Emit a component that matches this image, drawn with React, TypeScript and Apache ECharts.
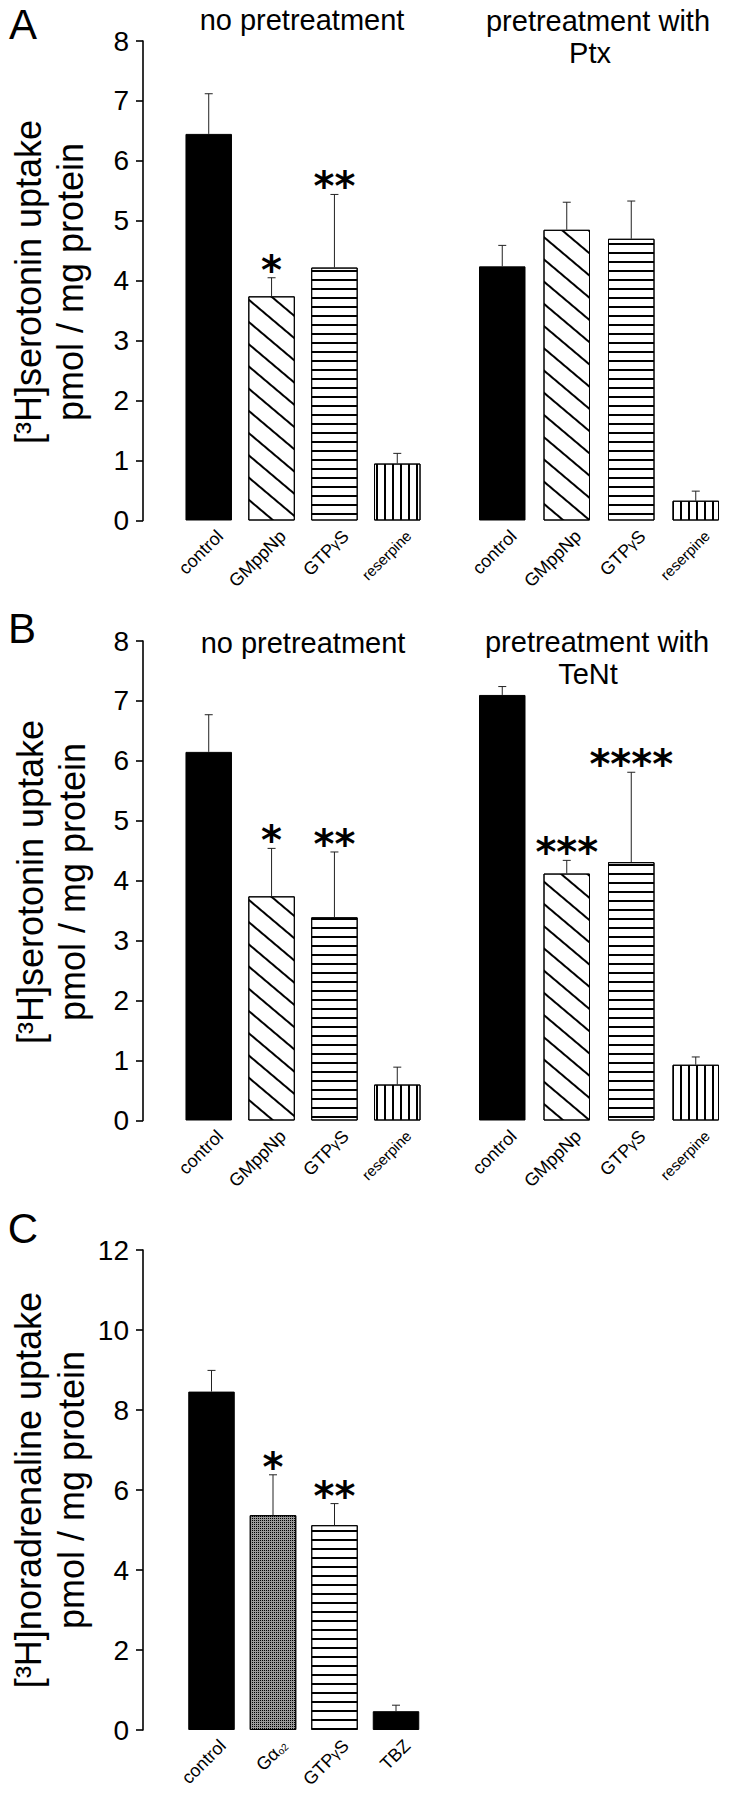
import React, { useEffect, useRef } from 'react';
import * as echarts from 'echarts';

// ---------- data ----------
const serotoninCategories = ['control', 'GMppNp', 'GTPγS', 'reserpine'];
const noradrenalineCategories = ['control', 'Gαo2', 'GTPγS', 'TBZ'];

const aNoPretreatMean = [6.45, 3.74, 4.22, 0.95];
const aNoPretreatSem = [0.67, 0.31, 1.22, 0.17];
const aNoPretreatSig = ['', '*', '**', ''];

const aPtxMean = [4.24, 4.85, 4.7, 0.33];
const aPtxSem = [0.35, 0.46, 0.63, 0.16];
const aPtxSig = ['', '', '', ''];

const bNoPretreatMean = [6.15, 3.74, 3.39, 0.6];
const bNoPretreatSem = [0.62, 0.8, 1.09, 0.29];
const bNoPretreatSig = ['', '*', '**', ''];

const bTeNtMean = [7.1, 4.12, 4.31, 0.93];
const bTeNtSem = [0.14, 0.22, 1.5, 0.13];
const bTeNtSig = ['', '***', '****', ''];

const cMean = [8.46, 5.37, 5.12, 0.47];
const cSem = [0.53, 1.01, 0.54, 0.15];
const cSig = ['', '*', '**', ''];

const serotoninFills = ['solid', 'diag', 'horiz', 'vert'];
const noradrenalineFills = ['solid', 'stipple', 'horiz', 'solid'];

const serotoninAxisMax = 8;
const serotoninAxisInterval = 1;
const noradrenalineAxisMax = 12;
const noradrenalineAxisInterval = 2;

// ---------- styles ----------
const FONT = '"Liberation Sans", Arial, Helvetica, sans-serif';
const AXIS_X = 143;

const decals: Record<string, any> = {
  diag: { symbol: 'rect', symbolSize: 1, dashArrayX: [1, 0], dashArrayY: [1.2, 14.6], rotation: 0.7, color: '#000' },
  horiz: { symbol: 'rect', symbolSize: 1, dashArrayX: [1, 0], dashArrayY: [1.2, 6.6], color: '#000' },
  vert: { symbol: 'rect', symbolSize: 1, dashArrayX: [1.2, 5.6], dashArrayY: [1, 0], color: '#000' },
  stipple: { symbol: 'rect', symbolSize: 1, dashArrayX: [1, 1], dashArrayY: [1, 1], color: '#000' },
};

function fillStyle(kind: string) {
  if (kind === 'solid') return { color: '#000' };
  if (kind === 'stipple') return { color: '#999', decal: decals.stipple };
  return { color: '#fff', decal: decals[kind] };
}

function labelFormatter(v: string) {
  if (v === 'reserpine') return '{r|reserpine}';
  if (v === 'Gαo2') return '{g|Gα}{s|o2}';
  if (v === 'GTPγS') return '{n|GTP}{y|γ}{n|S}';
  return '{n|' + v + '}';
}

const labelRich = {
  n: { fontSize: 18, fontFamily: FONT, color: '#000' },
  y: { fontSize: 14, fontFamily: FONT, color: '#000' },
  r: { fontSize: 15, fontFamily: FONT, color: '#000' },
  g: { fontSize: 18, fontFamily: FONT, color: '#000' },
  s: { fontSize: 10, fontFamily: FONT, color: '#000', padding: [7, 0, 0, 0] },
};

type Panel = {
  left: number;
  width: number;
  top: number;
  height: number;
  cats: string[];
  mean: number[];
  sem: number[];
  sig: string[];
  fills: string[];
  showY: boolean;
  max: number;
  interval: number;
};

export default function App() {
  const ref = useRef<HTMLDivElement>(null);

  useEffect(() => {
    if (!ref.current) return;
    const chart = echarts.init(ref.current, undefined, { renderer: 'svg' });

    const panels: Panel[] = [
      { left: 177.3, width: 251.4, top: 41, height: 479.5, cats: serotoninCategories, mean: aNoPretreatMean, sem: aNoPretreatSem, sig: aNoPretreatSig, fills: serotoninFills, showY: true, max: serotoninAxisMax, interval: serotoninAxisInterval },
      { left: 470, width: 258, top: 41, height: 479.5, cats: serotoninCategories, mean: aPtxMean, sem: aPtxSem, sig: aPtxSig, fills: serotoninFills, showY: false, max: serotoninAxisMax, interval: serotoninAxisInterval },
      { left: 177.3, width: 251.4, top: 641, height: 479.5, cats: serotoninCategories, mean: bNoPretreatMean, sem: bNoPretreatSem, sig: bNoPretreatSig, fills: serotoninFills, showY: true, max: serotoninAxisMax, interval: serotoninAxisInterval },
      { left: 470, width: 258, top: 641, height: 479.5, cats: serotoninCategories, mean: bTeNtMean, sem: bTeNtSem, sig: bTeNtSig, fills: serotoninFills, showY: false, max: serotoninAxisMax, interval: serotoninAxisInterval },
      { left: 180.75, width: 246, top: 1250, height: 480, cats: noradrenalineCategories, mean: cMean, sem: cSem, sig: cSig, fills: noradrenalineFills, showY: true, max: noradrenalineAxisMax, interval: noradrenalineAxisInterval },
    ];

    const grid: any[] = [];
    const xAxis: any[] = [];
    const yAxis: any[] = [];
    const series: any[] = [];

    panels.forEach((p, gi) => {
      grid.push({ left: p.left, width: p.width, top: p.top, height: p.height, containLabel: false });
      xAxis.push({
        gridIndex: gi,
        type: 'category',
        data: p.cats,
        axisLine: { show: false },
        axisTick: { show: false },
        splitLine: { show: false },
        axisLabel: {
          rotate: 45,
          margin: 24,
          padding: [0, -16, 0, 0],
          interval: 0,
          formatter: labelFormatter,
          rich: labelRich,
          color: '#000',
        },
      });
      yAxis.push({
        gridIndex: gi,
        type: 'value',
        min: 0,
        max: p.max,
        interval: p.interval,
        show: p.showY,
        offset: p.left - AXIS_X,
        axisLine: { show: true, lineStyle: { color: '#000', width: 1.6 } },
        axisTick: { show: true, inside: false, length: 7, lineStyle: { color: '#000', width: 1.6 } },
        axisLabel: { fontSize: 28, fontFamily: FONT, color: '#000', margin: 14 },
        splitLine: { show: false },
      });
      series.push({
        type: 'bar',
        xAxisIndex: gi,
        yAxisIndex: gi,
        barWidth: 46.5,
        itemStyle: { borderColor: '#000', borderWidth: 1 },
        data: p.mean.map((v, i) => ({ value: v, itemStyle: fillStyle(p.fills[i]) })),
        z: 2,
      });
      const sigs = p.sig;
      series.push({
        type: 'custom',
        xAxisIndex: gi,
        yAxisIndex: gi,
        clip: false,
        z: 5,
        data: p.mean.map((v, i) => [i, v, v + p.sem[i]]),
        renderItem: (params: any, api: any) => {
          const i = api.value(0);
          const m = api.value(1);
          const h = api.value(2);
          const base = api.coord([i, m]);
          const top = api.coord([i, h]);
          const children: any[] = [
            { type: 'line', shape: { x1: base[0], y1: base[1], x2: top[0], y2: top[1] }, style: { stroke: '#222', lineWidth: 1 } },
            { type: 'line', shape: { x1: top[0] - 4, y1: top[1], x2: top[0] + 4, y2: top[1] }, style: { stroke: '#222', lineWidth: 1 } },
          ];
          const s = sigs[params.dataIndex];
          if (s) {
            children.push({
              type: 'text',
              x: top[0],
              y: top[1] - 8,
              style: {
                text: s,
                fontSize: 40,
                fontWeight: 'bold',
                fontFamily: '"DejaVu Sans", sans-serif',
                fill: '#000',
                align: 'center',
                verticalAlign: 'middle',
              },
            });
          }
          return { type: 'group', children };
        },
      });
    });

    const txt = (text: string, x: number, y: number, size: number, extra: any = {}) => ({
      type: 'text',
      x,
      y,
      ...extra,
      style: {
        text,
        fontSize: size,
        fontFamily: FONT,
        fill: '#000',
        align: 'center',
        verticalAlign: 'middle',
        textAlign: 'center',
        textVerticalAlign: 'middle',
        ...(extra.style || {}),
      },
    });

    const graphic = [
      txt('A', 23, 24, 42),
      txt('B', 22, 628, 42),
      txt('C', 23, 1228, 42),
      txt('no pretreatment', 302, 20, 29),
      txt('pretreatment with', 598, 21, 29),
      txt('Ptx', 590, 53, 29),
      txt('no pretreatment', 303, 643, 29),
      txt('pretreatment with', 597, 642, 29),
      txt('TeNt', 588, 674, 29),
      { ...txt('[³H]serotonin uptake\npmol / mg protein', 49, 282, 36, { style: { lineHeight: 42 } }), rotation: Math.PI / 2 },
      { ...txt('[³H]serotonin uptake\npmol / mg protein', 51, 882, 36, { style: { lineHeight: 42 } }), rotation: Math.PI / 2 },
      { ...txt('[³H]noradrenaline uptake\npmol / mg protein', 50, 1490, 36, { style: { lineHeight: 43 } }), rotation: Math.PI / 2 },
    ];

    chart.setOption({
      animation: false,
      backgroundColor: '#fff',
      grid,
      xAxis,
      yAxis,
      series,
      graphic,
    });

    return () => chart.dispose();
  }, []);

  return (
    <div
      ref={ref}
      style={{ position: 'absolute', left: 0, top: 0, width: 743, height: 1800, background: '#fff' }}
    />
  );
}
